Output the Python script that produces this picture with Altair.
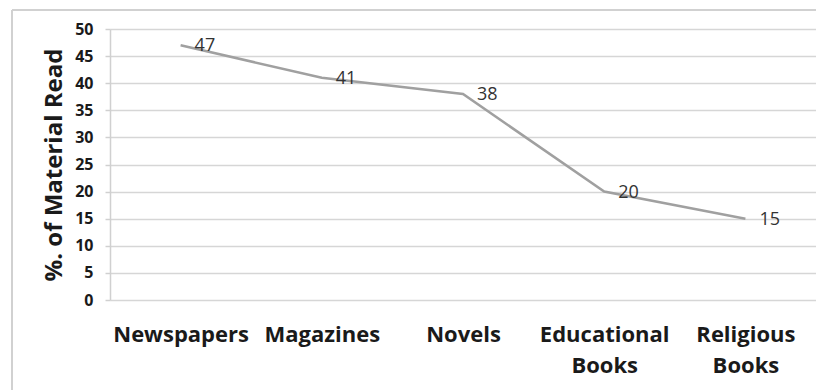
import altair as alt
import pandas as pd

categories = ["Newspapers", "Magazines", "Novels", "Educational Books", "Religious Books"]
percent_read = [47, 41, 38, 20, 15]
y_ticks = [0, 5, 10, 15, 20, 25, 30, 35, 40, 45, 50]

df = pd.DataFrame({"material": categories, "pct": percent_read})

FONT = "Open Sans"

x_enc = alt.X(
    "material:N",
    sort=categories,
    scale=alt.Scale(paddingInner=0, paddingOuter=0),
    axis=alt.Axis(
        title=None,
        labelAngle=0,
        labelExpr="split(datum.label, ' ')",
        labelFont=FONT,
        labelFontWeight="bold",
        labelFontSize=22,
        labelColor="#1a1a1a",
        labelPadding=24,
        labelLineHeight=31,
        labelBaseline="top",
        ticks=False,
        domain=False,
        grid=False,
    ),
)

y_enc = alt.Y(
    "pct:Q",
    scale=alt.Scale(domain=[0, 50], nice=False),
    axis=alt.Axis(
        title="%. of Material Read",
        titleFont=FONT,
        titleFontWeight="bold",
        titleFontSize=24,
        titleColor="#1a1a1a",
        titlePadding=8,
        values=y_ticks,
        labelFont=FONT,
        labelFontWeight="bold",
        labelFontSize=16,
        labelColor="#1a1a1a",
        labelPadding=12,
        tickSize=5,
        tickColor="#d0d0d0",
        tickWidth=1.5,
        domainColor="#d0d0d0",
        domainWidth=1.5,
        gridColor="#d6d6d6",
        gridWidth=1.5,
    ),
)

base = alt.Chart(df)

line = base.mark_line(color="#a0a0a0", strokeWidth=2.5).encode(x=x_enc, y=y_enc)

labels = base.mark_text(
    align="left", baseline="middle", dx=14, dy=1,
    font=FONT, fontSize=18, color="#333333",
).encode(x=x_enc, y=y_enc, text="pct:Q")

# light frame around the chart area (left and top edges)
frame_left = base.mark_rule(color="#d0d0d0", strokeWidth=1.5).encode(
    x=alt.value(-98), y=alt.value(-19), y2=alt.value(361)
)
frame_top = base.mark_rule(color="#d0d0d0", strokeWidth=1.5).encode(
    x=alt.value(-98), x2=alt.value(706), y=alt.value(-19)
)

chart = (
    alt.layer(line, labels, frame_left, frame_top)
    .properties(
        width=706,
        height=271,
        autosize=alt.AutoSizeParams(type="none"),
        padding={"left": 110, "top": 29, "right": 0, "bottom": 90},
        background="white",
    )
    .configure_view(stroke=None)
)

chart.save("out.html", embed_options={"renderer": "svg", "actions": False})
